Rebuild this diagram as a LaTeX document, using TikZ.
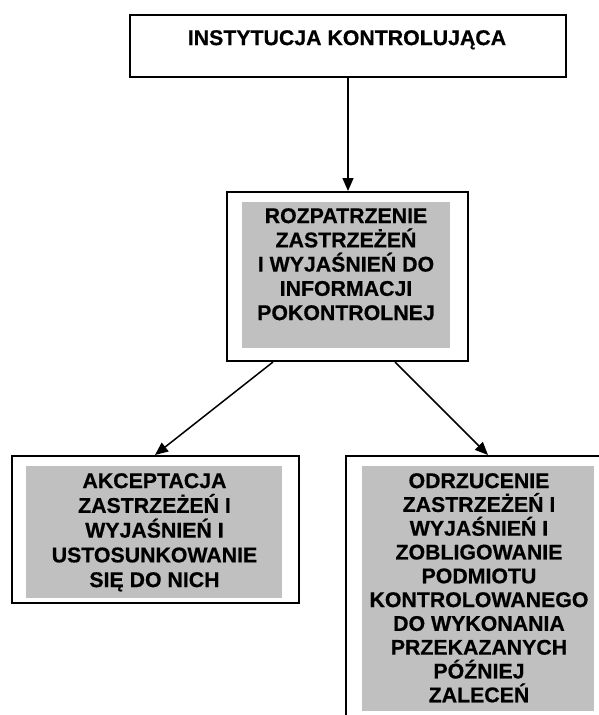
\documentclass[tikz,border=0pt]{standalone}
\usepackage{fontspec}
\setmainfont{Liberation Sans}[BoldFeatures={FakeBold=0.6}]
\usetikzlibrary{arrows.meta,calc}
\definecolor{panelgray}{RGB}{192,192,192}
\begin{document}
\begin{tikzpicture}[x=1pt,y=-1pt,
  frame/.style={draw=black,line width=2pt,fill=white,inner sep=0pt,anchor=north west},
  panel/.style={fill=panelgray,inner sep=0pt,anchor=north west},
  caption/.style={inner sep=0pt,anchor=north,align=center,
    font=\fontsize{21.3pt}{#1}\selectfont\bfseries},
  arr/.style={line width=1.5pt,-{Triangle[length=13pt,width=11pt]}}]

% page area
\clip (0,0) rectangle (599,715);

% outer frames
\node[frame,minimum width=436pt,minimum height=62pt] (top) at (129,14) {};
\node[frame,minimum width=241pt,minimum height=169pt] (mid) at (226,191) {};
\node[frame,minimum width=287pt,minimum height=147pt] (leftbox) at (11,455) {};
\node[frame,minimum width=300pt,minimum height=300pt] (rightbox) at (345,455) {};

% grey panels inside the lower frames
\node[panel,minimum width=208pt,minimum height=146pt] (midpanel) at (242,202) {};
\node[panel,minimum width=256pt,minimum height=132pt] (leftpanel) at (26,466) {};
\node[panel,minimum width=232pt,minimum height=245pt] (rightpanel) at (362,466) {};

% texts
\node[caption=24pt] (toptext) at (347,30) {INSTYTUCJA KONTROLUJĄCA};
\node[caption=24.25pt] (midtext) at (346,208)
  {ROZPATRZENIE\\ZASTRZEŻEŃ\\I WYJAŚNIEŃ DO\\INFORMACJI\\POKONTROLNEJ};
\node[caption=24.75pt] (lefttext) at (154.5,473)
  {AKCEPTACJA\\ZASTRZEŻEŃ I\\WYJAŚNIEŃ I\\USTOSUNKOWANIE\\SIĘ DO NICH};
\node[caption=23.8pt] (righttext) at (479,473)
  {ODRZUCENIE\\ZASTRZEŻEŃ I\\WYJAŚNIEŃ I\\ZOBLIGOWANIE\\PODMIOTU\\KONTROLOWANEGO\\DO WYKONANIA\\PRZEKAZANYCH\\PÓŹNIEJ\\ZALECEŃ};

% connectors
\draw[arr] (top.south) -- (top.south |- mid.north);
\draw[arr] ($(mid.south west)+(47,0)$) -- ($(leftbox.north west)+(144,0)$);
\draw[arr] ($(mid.south west)+(169,0)$) -- ($(rightbox.north west)+(143,0)$);
\end{tikzpicture}
\end{document}
